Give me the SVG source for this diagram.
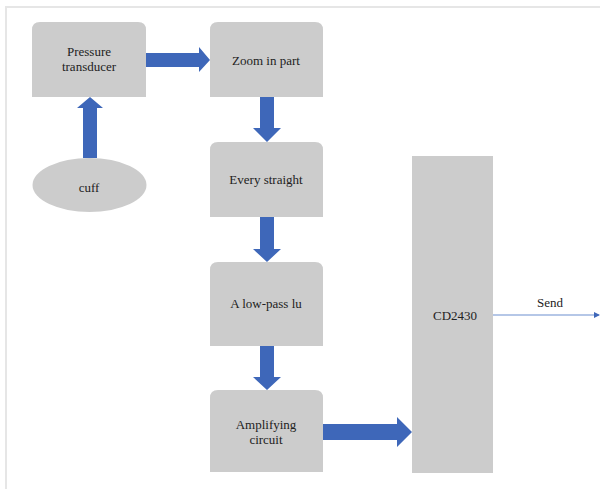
<svg xmlns="http://www.w3.org/2000/svg" width="600" height="489" viewBox="0 0 600 489">
<style>
.box{fill:#cccccc}
.arr{fill:#3e67b9}
.t{font-size:13px;fill:#222;text-anchor:middle}
.frame{stroke:#e6e6e6;stroke-width:2;fill:none}
</style>
<defs>
<marker id="tip" markerWidth="6" markerHeight="6" refX="5" refY="3" orient="auto" markerUnits="userSpaceOnUse">
<path d="M0,0 L6,3 L0,6 Z" fill="#3e67b9"/>
</marker>
</defs>
<rect width="600" height="489" fill="#fff"/>
<path class="frame" d="M6,489 V7 H600"/>
<g font-family="'Liberation Serif', 'DejaVu Serif', serif">
<g id="pressure">
<path class="box" d="M32,97 V30 Q32,22 40,22 H138 Q146,22 146,30 V97 Z"/>
<text class="t" x="89" y="56">Pressure</text>
<text class="t" x="89" y="71">transducer</text>
</g>
<g id="zoom">
<path class="box" d="M210,97 V30 Q210,22 218,22 H315 Q323,22 323,30 V97 Z"/>
<text class="t" x="266" y="65">Zoom in part</text>
</g>
<g id="cuff">
<ellipse class="box" cx="89.5" cy="185" rx="57" ry="27"/>
<text class="t" x="89" y="192">cuff</text>
</g>
<g id="every">
<path class="box" d="M210,217 V150 Q210,142 218,142 H315 Q323,142 323,150 V217 Z"/>
<text class="t" x="266" y="184">Every straight</text>
</g>
<g id="lowpass">
<path class="box" d="M210,346 V270 Q210,262 218,262 H315 Q323,262 323,270 V346 Z"/>
<text class="t" x="266" y="308">A low-pass lu</text>
</g>
<g id="amplifying">
<path class="box" d="M210,472 V398 Q210,390 218,390 H315 Q323,390 323,398 V472 Z"/>
<text class="t" x="266" y="429">Amplifying</text>
<text class="t" x="266" y="444">circuit</text>
</g>
<g id="cd2430">
<rect class="box" x="412" y="156" width="81" height="317"/>
<text class="t" x="455" y="320">CD2430</text>
</g>
<g id="connectors">
<path class="arr" d="M146,53 H199 V47 L210,60 L199,72 V67 H146 Z"/>
<path class="arr" d="M83,158 V108 H77 L90,97 L103,108 H97 V158 Z"/>
<path class="arr" d="M260,97 V128 H253 L267,142 L281,128 H274 V97 Z"/>
<path class="arr" d="M260,217 V249 H253 L267,262 L281,249 H274 V217 Z"/>
<path class="arr" d="M260,346 V377 H253 L267,390 L281,377 H274 V346 Z"/>
<path class="arr" d="M323,424 H397 V417 L412,432 L397,447 V440 H323 Z"/>
<line x1="493" y1="315" x2="599" y2="315" stroke="#6d8fd0" stroke-width="1.2" marker-end="url(#tip)"/>
<text class="t" x="550" y="307">Send</text>
</g>
</g>
</svg>
